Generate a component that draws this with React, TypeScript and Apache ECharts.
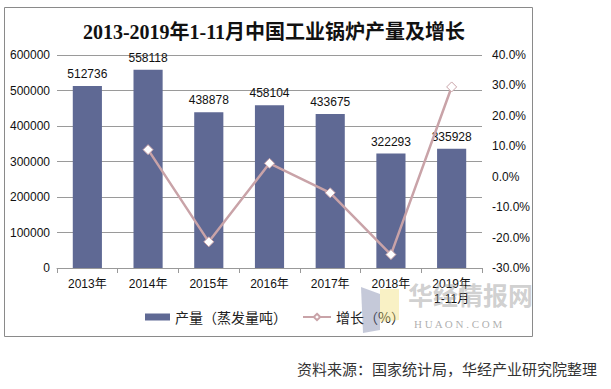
import React, { useEffect, useRef } from "react";
import * as echarts from "echarts";

const categories = ["2013年", "2014年", "2015年", "2016年", "2017年", "2018年", "2019年\n1-11月"];
const output = [512736, 558118, 438878, 458104, 433675, 322293, 335928];
const growth = [null, 8.9, -21.4, 4.4, -5.3, -25.6, 29.5];
const leftTicks = { min: 0, max: 600000, interval: 100000 };
const rightTicks = { min: -30, max: 40, interval: 10 };

const FONT = '"Liberation Sans", Arial, "Noto Sans CJK SC", sans-serif';
const LEGEND_TEXT = { fontSize: 14, color: "#222", fontFamily: '"Noto Sans CJK SC", sans-serif' };

export default function App() {
  const ref = useRef<HTMLDivElement>(null);
  useEffect(() => {
    if (!ref.current) return;
    const chart = echarts.init(ref.current, undefined, { renderer: "svg" });
    chart.setOption({
      animation: false,
      backgroundColor: "#ffffff",
      textStyle: { fontFamily: FONT },
      title: {
        text: "2013-2019年1-11月中国工业锅炉产量及增长",
        left: 269,
        top: 17,
        textAlign: "center",
        textStyle: {
          fontFamily: '"Liberation Serif", "Noto Sans CJK SC", serif',
          fontSize: 20,
          fontWeight: "bold",
          color: "#111",
        },
      },
      grid: { left: 57, right: 129, top: 55, bottom: 121 },
      legend: [
        {
          left: 145,
          top: 310,
          padding: 0,
          itemWidth: 25,
          itemHeight: 7,
          textStyle: LEGEND_TEXT,
          data: [{ name: "产量（蒸发量吨）", icon: "rect" }],
        },
        {
          left: 302,
          top: 310,
          padding: 0,
          itemWidth: 28,
          itemHeight: 8,
          textStyle: LEGEND_TEXT,
          data: [{ name: "增长（%）" }],
        },
      ],
      xAxis: {
        type: "category",
        data: categories,
        axisLine: { show: true, lineStyle: { color: "#999" } },
        axisTick: { show: true, alignWithLabel: false, lineStyle: { color: "#999" } },
        axisLabel: { color: "#111", fontSize: 12, margin: 8, lineHeight: 15, interval: 0 },
      },
      yAxis: [
        {
          type: "value",
          ...leftTicks,
          axisLine: { show: false },
          axisTick: { show: false },
          splitLine: { lineStyle: { color: "#9a9a9a", width: 1 } },
          axisLabel: { color: "#111", fontSize: 12, margin: 7, formatter: (v: number) => String(v) },
        },
        {
          type: "value",
          ...rightTicks,
          axisLine: { show: false },
          axisTick: { show: false },
          splitLine: { show: false },
          axisLabel: {
            color: "#111",
            fontSize: 12,
            margin: 10,
            formatter: (v: number) => v.toFixed(1) + "%",
          },
        },
      ],
      series: [
        {
          name: "产量（蒸发量吨）",
          type: "bar",
          data: output,
          barWidth: "48%",
          itemStyle: { color: "#5f6994" },
          label: { show: true, position: "top", color: "#111", fontSize: 12, distance: 6 },
        },
        {
          name: "增长（%）",
          type: "line",
          yAxisIndex: 1,
          data: growth,
          symbol: "diamond",
          symbolSize: 10,
          lineStyle: { color: "#c9a3a8", width: 2.5 },
          itemStyle: { color: "#ffffff", borderColor: "#c9a3a8", borderWidth: 1 },
        },
      ],
      graphic: [
        {
          type: "rect",
          shape: { x: 4.5, y: 7.5, width: 528, height: 329 },
          style: { fill: "none", stroke: "#8a8a8a", lineWidth: 1 },
          z: -1,
        },
        {
          type: "polygon",
          shape: { points: [[361, 287], [380, 294], [380, 330], [363, 333]] },
          style: { fill: "rgba(110,120,160,0.4)" },
          z: 10,
        },
        {
          type: "polygon",
          shape: { points: [[380, 289], [399, 289], [399, 320], [380, 322]] },
          style: { fill: "rgba(240,220,110,0.4)" },
          z: 10,
        },
        {
          type: "text",
          x: 408,
          y: 281,
          style: {
            text: "华经情报网",
            font: 'bold 25px "Noto Sans CJK SC", serif',
            fill: "rgba(150,150,150,0.45)",
          },
          z: 10,
        },
        {
          type: "text",
          x: 414,
          y: 318,
          style: {
            text: "H U A O N . C O M",
            font: '11px "Liberation Serif", serif',
            fill: "rgba(140,140,140,0.7)",
          },
          z: 10,
        },
        {
          type: "text",
          x: 297,
          y: 361,
          style: {
            text: "资料来源：国家统计局，华经产业研究院整理",
            font: '15px "Noto Sans CJK SC", sans-serif',
            fill: "#333",
          },
        },
      ],
    });
    return () => chart.dispose();
  }, []);
  return <div ref={ref} style={{ position: "fixed", left: 0, top: 0, width: 611, height: 389 }} />;
}
